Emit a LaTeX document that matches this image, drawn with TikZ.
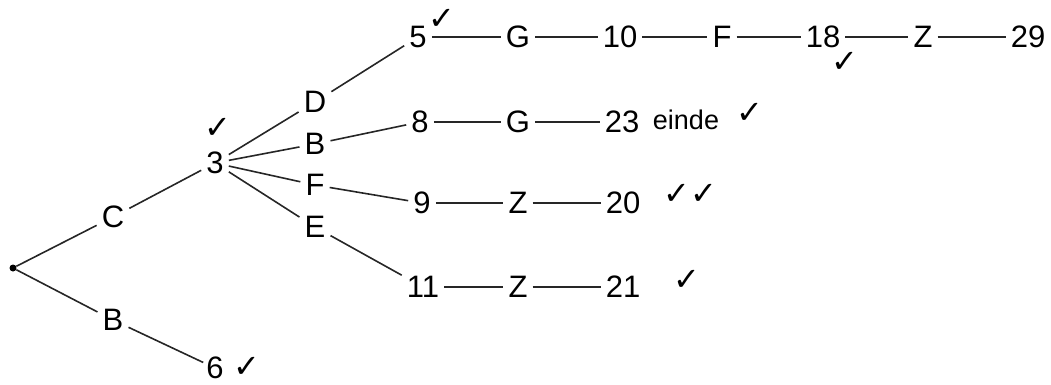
\documentclass[tikz,border=0pt]{standalone}
\usepackage{fontspec}
\setmainfont{Liberation Sans}
\newfontfamily\symfont{DejaVu Sans}

\begin{document}
\begin{tikzpicture}[x=1pt,y=-1pt,
    lbl/.style={inner sep=5pt,font=\fontsize{31}{34}\selectfont},
    chk/.style={inner sep=0pt,font=\symfont\fontsize{32}{34}\selectfont},
    edge/.style={line width=1.6pt,draw=black!85}]
  \useasboundingbox (0,0) rectangle (1051,385);
  % root and first level
  \node[circle,fill,inner sep=0pt,minimum size=7pt] (root) at (13,268) {};
  \node[lbl] (c1) at (113,217) {C};
  \node[lbl] (b1) at (113,320) {B};
  \node[lbl] (n3) at (215,163) {3};
  \node[lbl,inner sep=3pt] (n6) at (215,368) {6};
  \draw[edge] (root)--(c1);
  \draw[edge] (c1)--(n3);
  \draw[edge] (root)--(b1);
  \draw[edge] (b1)--(n6);
  % branches from 3
  \node[lbl] (d2) at (315,102) {D};
  \node[lbl] (b2) at (315,144) {B};
  \node[lbl] (f2) at (315,185) {F};
  \node[lbl] (e2) at (315,227) {E};
  \draw[edge] (n3)--(d2);
  \draw[edge] (n3)--(b2);
  \draw[edge] (n3)--(f2);
  \draw[edge] (n3)--(e2);
  % row D
  \node[lbl] (n5) at (418,37) {5};
  \node[lbl] (g5) at (518,37) {G};
  \node[lbl] (n10) at (620,37) {10};
  \node[lbl] (f10) at (722,37) {F};
  \node[lbl] (n18) at (823,37) {18};
  \node[lbl] (z18) at (923,37) {Z};
  \node[lbl] (n29) at (1028,37) {29};
  \draw[edge] (d2)--(n5);
  \draw[edge] (n5)--(g5);
  \draw[edge] (g5)--(n10);
  \draw[edge] (n10)--(f10);
  \draw[edge] (f10)--(n18);
  \draw[edge] (n18)--(z18);
  \draw[edge] (z18)--(n29);
  % row B
  \node[lbl] (n8) at (420,122) {8};
  \node[lbl] (g8) at (518,122) {G};
  \node[lbl] (n23) at (622,122) {23};
  \node[inner sep=0pt,font=\fontsize{27}{30}\selectfont] (einde) at (686,120) {einde};
  \draw[edge] (b2)--(n8);
  \draw[edge] (n8)--(g8);
  \draw[edge] (g8)--(n23);
  % row F
  \node[lbl] (n9) at (422,203) {9};
  \node[lbl] (z9) at (518,203) {Z};
  \node[lbl] (n20) at (623,203) {20};
  \draw[edge] (f2)--(n9);
  \draw[edge] (n9)--(z9);
  \draw[edge] (z9)--(n20);
  % row E
  \node[lbl] (n11) at (423,287) {11};
  \node[lbl] (z11) at (518,287) {Z};
  \node[lbl] (n21) at (623,287) {21};
  \draw[edge] (e2)--(n11);
  \draw[edge] (n11)--(z11);
  \draw[edge] (z11)--(n21);
  % ticks
  \node[chk] (ck3) at (218,128) {✓};
  \node[chk] (ck6) at (247,367) {✓};
  \node[chk] (ck5) at (442,19) {✓};
  \node[chk] (ck18) at (845,62) {✓};
  \node[chk] (ck23) at (750,113) {✓};
  \node[chk] (ck20a) at (677,194) {✓};
  \node[chk] (ck20b) at (704,194) {✓};
  \node[chk] (ck21) at (687,280) {✓};
\end{tikzpicture}
\end{document}
